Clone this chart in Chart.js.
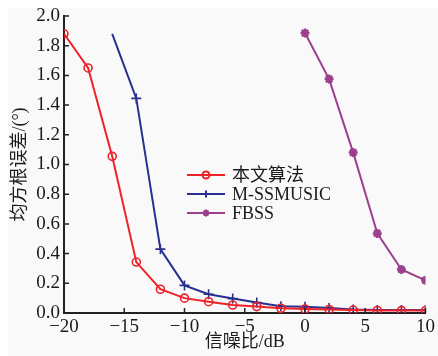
<!DOCTYPE html>
<html>
<head>
<meta charset="utf-8">
<script src="https://cdn.jsdelivr.net/npm/chart.js@4/dist/chart.umd.min.js"></script>
<style>
  html, body { margin: 0; padding: 0; background: #fff; }
  #wrap { width: 438px; height: 356px; }
</style>
</head>
<body>
<div id="wrap"><canvas id="c" width="438" height="356"></canvas></div>
<script>
// SNR in dB
const snr = [-20, -18, -16, -14, -12, -10, -8, -6, -4, -2, 0, 2, 4, 6, 8, 10];

// RMSE (deg)
const proposed = [1.88, 1.65, 1.055, 0.343, 0.16, 0.10, 0.076, 0.054, 0.043, 0.032, 0.027, 0.024, 0.02, 0.017, 0.016, 0.016];
const mssmusic = [null, null, 1.88, 1.445, 0.43, 0.186, 0.126, 0.097, 0.07, 0.045, 0.042, 0.033, 0.024, 0.021, 0.02, 0.02];
const fbss = [null, null, null, null, null, null, null, null, null, null, 1.885, 1.575, 1.08, 0.536, 0.293, 0.22];

const seriesNames = ['本文算法', 'M-SSMUSIC', 'FBSS'];

const xTicks = [-20, -15, -10, -5, 0, 5, 10];
const yTicks = [0, 0.2, 0.4, 0.6, 0.8, 1.0, 1.2, 1.4, 1.6, 1.8, 2.0];

const serif = "'Liberation Serif', 'Times New Roman', 'Noto Sans CJK SC', serif";

const toPoints = (vals) => snr.map((x, i) => ({ x, y: vals[i] }));

// light grey background panel
const bgPlugin = {
  id: 'bg',
  beforeDraw(chart) {
    const ctx = chart.ctx;
    ctx.save();
    ctx.fillStyle = '#f9f9f9';
    ctx.fillRect(8, 8, chart.width - 8, chart.height - 8);
    ctx.restore();
  },
};

// ticks pointing into the plot area
const innerTicks = {
  id: 'innerTicks',
  afterDraw(chart) {
    const ctx = chart.ctx;
    const { x, y } = chart.scales;
    const area = chart.chartArea;
    ctx.save();
    ctx.strokeStyle = '#222';
    ctx.lineWidth = 1.5;
    ctx.beginPath();
    xTicks.forEach((v) => {
      const px = x.getPixelForValue(v);
      ctx.moveTo(px, area.bottom);
      ctx.lineTo(px, area.bottom - 5);
    });
    yTicks.forEach((v) => {
      const py = y.getPixelForValue(v);
      ctx.moveTo(area.left, py);
      ctx.lineTo(area.left + 5, py);
    });
    ctx.stroke();
    ctx.restore();
  },
};

// legend drawn inside the plot, line + marker sample
const legendBox = {
  id: 'legendBox',
  afterDraw(chart) {
    const ctx = chart.ctx;
    const x0 = 187, x1 = 225, tx = 232;
    const rows = [175, 194, 213];
    ctx.save();
    chart.data.datasets.forEach((ds, i) => {
      const yy = rows[i];
      ctx.strokeStyle = ds.borderColor;
      ctx.lineWidth = 2;
      ctx.beginPath();
      ctx.moveTo(x0, yy);
      ctx.lineTo(x1, yy);
      ctx.stroke();
      ctx.fillStyle = ds.backgroundColor;
      Chart.helpers.drawPoint(ctx, {
        pointStyle: ds.pointStyle,
        radius: 3.5,
        borderWidth: 2,
        rotation: 0,
      }, (x0 + x1) / 2, yy);
      ctx.fillStyle = '#1a1a1a';
      ctx.font = '18px ' + serif;
      ctx.textBaseline = 'middle';
      ctx.fillText(seriesNames[i], tx, yy + 1);
    });
    ctx.restore();
  },
};

new Chart(document.getElementById('c'), {
  type: 'line',
  data: {
    datasets: [
      {
        label: seriesNames[0],
        data: toPoints(proposed),
        borderColor: '#ee2229',
        backgroundColor: 'rgba(0,0,0,0)',
        pointStyle: 'circle',
        pointRadius: 4,
        pointBorderWidth: 1.6,
        borderWidth: 2,
      },
      {
        label: seriesNames[1],
        data: toPoints(mssmusic),
        borderColor: '#28308f',
        backgroundColor: '#28308f',
        pointStyle: 'cross',
        pointRadius: (c) => (c.dataIndex === 2 ? 0 : 5),
        pointBorderWidth: 1.6,
        borderWidth: 2,
      },
      {
        label: seriesNames[2],
        data: toPoints(fbss),
        borderColor: '#9c3f8d',
        backgroundColor: '#9c3f8d',
        pointStyle: 'star',
        pointRadius: 4.5,
        pointBorderWidth: 2.5,
        borderWidth: 2,
      },
    ],
  },
  options: {
    responsive: false,
    animation: false,
    layout: { padding: { top: 16, right: 11, left: 0, bottom: 0 } },
    elements: { line: { tension: 0 } },
    plugins: {
      legend: { display: false },
      tooltip: { enabled: false },
    },
    scales: {
      x: {
        type: 'linear',
        min: -20,
        max: 10,
        afterBuildTicks: (s) => { s.ticks = xTicks.map((v) => ({ value: v })); },
        afterFit: (s) => { s.height = 43; },
        grid: { display: false, drawTicks: false },
        border: { color: '#222', width: 2 },
        ticks: {
          padding: 3,
          color: '#1a1a1a',
          font: { family: serif, size: 19 },
          callback: (v) => String(v).replace('-', '\u2212'),
        },
        title: {
          display: true,
          text: '信噪比/dB',
          color: '#1a1a1a',
          font: { family: serif, size: 18 },
          padding: { top: 0, bottom: 3 },
        },
      },
      y: {
        min: 0,
        max: 2,
        afterBuildTicks: (s) => { s.ticks = yTicks.map((v) => ({ value: v })); },
        afterFit: (s) => { s.width = 64; },
        grid: { display: false, drawTicks: false },
        border: { color: '#222', width: 2 },
        ticks: {
          padding: 4,
          color: '#1a1a1a',
          font: { family: serif, size: 19 },
          callback: (v) => Number(v).toFixed(1),
        },
        title: {
          display: true,
          text: '均方根误差/(°)',
          color: '#1a1a1a',
          font: { family: serif, size: 18 },
          padding: { top: 9, bottom: 0 },
        },
      },
    },
  },
  plugins: [bgPlugin, innerTicks, legendBox],
});
</script>
</body>
</html>
